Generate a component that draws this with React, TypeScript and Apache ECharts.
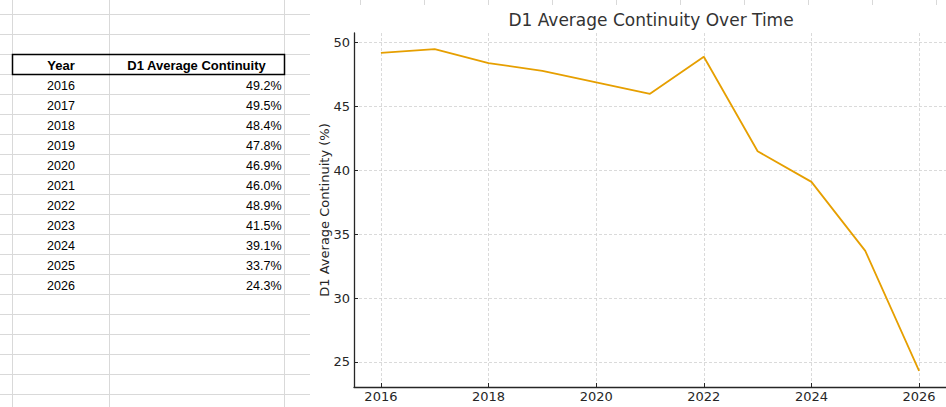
import React, { useEffect, useRef } from "react";
import * as echarts from "echarts";

const years = [2016, 2017, 2018, 2019, 2020, 2021, 2022, 2023, 2024, 2025, 2026];
const continuity = [49.2, 49.5, 48.4, 47.8, 46.9, 46.0, 48.9, 41.5, 39.1, 33.7, 24.3];
const xTickValues = [2016, 2018, 2020, 2022, 2024, 2026];
const yTickValues = [25, 30, 35, 40, 45, 50];
const tableHeaders = ["Year", "D1 Average Continuity"];
const chartTitle = "D1 Average Continuity Over Time";
const yAxisTitle = "D1 Average Continuity (%)";

const SHEET_FONT = "'Liberation Sans', Arial, sans-serif";
const CHART_FONT = "'DejaVu Sans', sans-serif";
const GRID_GRAY = "#d9d9d9";

function buildSheetGraphics() {
  const els: any[] = [];
  for (let k = 0; k < 20; k++) {
    const y = 14.5 + 20 * k;
    els.push({
      type: "line",
      shape: { x1: 0, y1: y, x2: 310, y2: y },
      style: { stroke: GRID_GRAY, lineWidth: 1 },
      silent: true,
    });
  }
  [12.5, 109.5, 284.5].forEach((x) => {
    els.push({
      type: "line",
      shape: { x1: x, y1: 0, x2: x, y2: 407 },
      style: { stroke: GRID_GRAY, lineWidth: 1 },
      silent: true,
    });
  });
  for (let k = 0; k < 10; k++) {
    const x = 360.5 + 64 * k;
    els.push({
      type: "line",
      shape: { x1: x, y1: 0, x2: x, y2: 5 },
      style: { stroke: GRID_GRAY, lineWidth: 1 },
      silent: true,
    });
  }
  els.push({
    type: "rect",
    shape: { x: 12.5, y: 54.5, width: 272, height: 20 },
    style: { fill: "none", stroke: "#000", lineWidth: 1.5 },
    silent: true,
  });
  const rowTop = (r: number) => 54.5 + 20 * r;
  els.push({
    type: "text",
    x: 61,
    y: rowTop(0) + 10.5,
    style: {
      text: tableHeaders[0],
      font: `bold 13px ${SHEET_FONT}`,
      fill: "#000",
      align: "center",
      verticalAlign: "middle",
    },
  });
  els.push({
    type: "text",
    x: 196.5,
    y: rowTop(0) + 10.5,
    style: {
      text: tableHeaders[1],
      font: `bold 13px ${SHEET_FONT}`,
      fill: "#000",
      align: "center",
      verticalAlign: "middle",
    },
  });
  years.forEach((yr, i) => {
    const yMid = rowTop(i + 1) + 11;
    els.push({
      type: "text",
      x: 61,
      y: yMid,
      style: {
        text: String(yr),
        font: `12.5px ${SHEET_FONT}`,
        fill: "#000",
        align: "center",
        verticalAlign: "middle",
      },
    });
    els.push({
      type: "text",
      x: 281.5,
      y: yMid,
      style: {
        text: continuity[i].toFixed(1) + "%",
        font: `12.5px ${SHEET_FONT}`,
        fill: "#000",
        align: "right",
        verticalAlign: "middle",
      },
    });
  });
  els.push({
    type: "text",
    x: 651,
    y: 20,
    style: {
      text: chartTitle,
      font: `17px ${CHART_FONT}`,
      fill: "#333",
      align: "center",
      verticalAlign: "middle",
    },
  });
  return els;
}

export default function App() {
  const ref = useRef<HTMLDivElement>(null);
  useEffect(() => {
    document.body.style.margin = "0";
    if (!ref.current) return;
    const chart = echarts.init(ref.current, null, { renderer: "svg" });
    const dataMin = Math.min(...continuity);
    const dataMax = Math.max(...continuity);
    const pad = (dataMax - dataMin) * 0.05;
    const xPad = (years[years.length - 1] - years[0]) * 0.05;
    chart.setOption({
      animation: false,
      backgroundColor: "#fff",
      grid: { left: 354, top: 33, width: 593, height: 354, containLabel: false },
      xAxis: {
        type: "value",
        min: years[0] - xPad,
        max: years[years.length - 1] + xPad,
        axisLine: { show: true, onZero: false, lineStyle: { color: "#262626", width: 1.3 } },
        axisTick: { show: true, inside: true, length: 4, customValues: xTickValues, lineStyle: { color: "#262626" } },
        axisLabel: {
          customValues: xTickValues,
          formatter: (v: number) => String(v),
          fontFamily: CHART_FONT,
          fontSize: 13,
          color: "#262626",
          margin: 3,
        },
        splitLine: { show: true, lineStyle: { color: "#d0d0d0", width: 0.8, type: [3, 2] } },
      },
      yAxis: {
        type: "value",
        min: dataMin - pad,
        max: dataMax + pad,
        name: yAxisTitle,
        nameLocation: "middle",
        nameGap: 23,
        nameMoveOverlap: false,
        nameTextStyle: { fontFamily: CHART_FONT, fontSize: 13, color: "#262626" },
        axisLine: { show: true, onZero: false, lineStyle: { color: "#262626", width: 1.3 } },
        axisTick: { show: true, inside: true, length: 4, customValues: yTickValues, lineStyle: { color: "#262626" } },
        axisLabel: {
          customValues: yTickValues,
          formatter: (v: number) => String(v),
          fontFamily: CHART_FONT,
          fontSize: 13,
          color: "#262626",
          margin: 4,
        },
        splitLine: { show: true, lineStyle: { color: "#d0d0d0", width: 0.8, type: [3, 2] } },
      },
      series: [
        {
          type: "line",
          data: years.map((y, i) => [y, continuity[i]]),
          showSymbol: false,
          lineStyle: { color: "#E69F00", width: 1.8 },
          itemStyle: { color: "#E69F00" },
        },
      ],
      graphic: buildSheetGraphics(),
    });
    return () => chart.dispose();
  }, []);
  return <div ref={ref} style={{ width: 946, height: 407 }} />;
}
